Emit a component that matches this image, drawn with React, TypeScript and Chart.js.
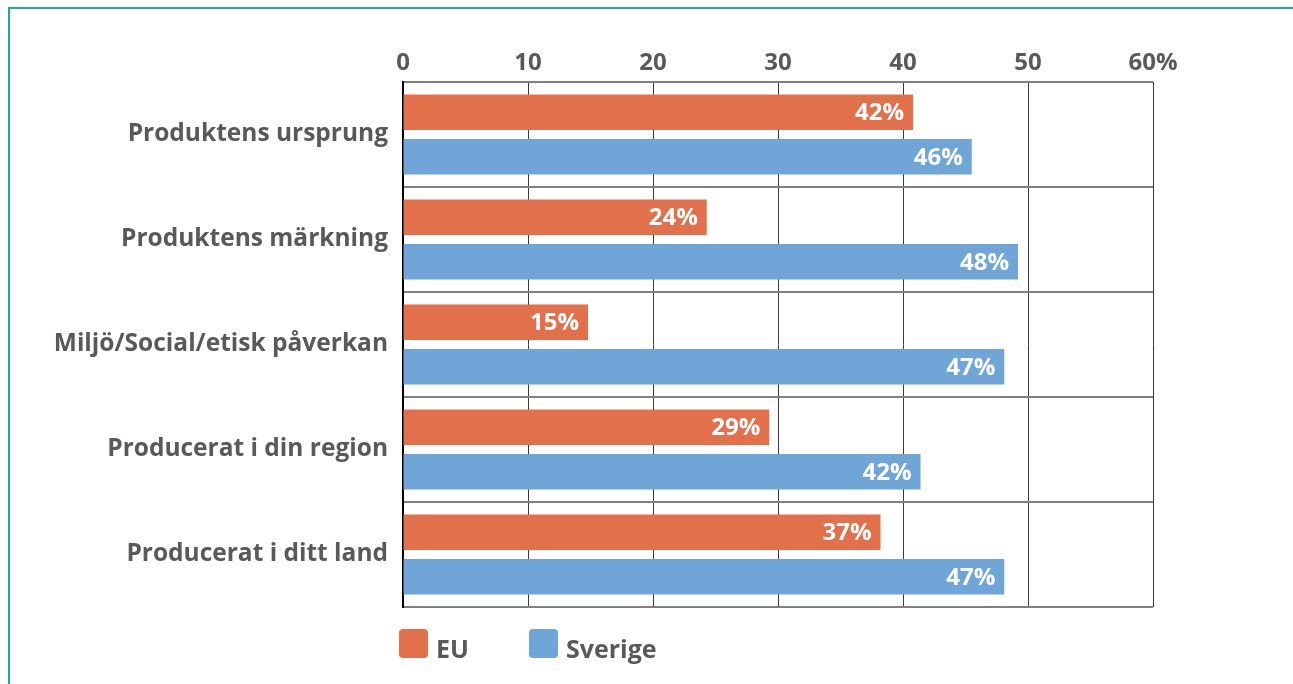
import React, { useEffect, useRef } from "react";
import { Chart, registerables } from "chart.js";

Chart.register(...registerables);

const categories = [
  "Produktens ursprung",
  "Produktens märkning",
  "Miljö/Social/etisk påverkan",
  "Producerat i din region",
  "Producerat i ditt land",
];
const seriesNames = ["EU", "Sverige"];
// bar lengths as drawn in the picture
const euValues = [40.8, 24.3, 14.8, 29.3, 38.2];
const sverigeValues = [45.5, 49.2, 48.1, 41.4, 48.1];
// printed value labels
const euLabels = ["42%", "24%", "15%", "29%", "37%"];
const sverigeLabels = ["46%", "48%", "47%", "42%", "47%"];
const xTicks = [0, 10, 20, 30, 40, 50, 60];

const EU_COLOR = "#E2704A";
const SE_COLOR = "#6FA5D7";
const TEXT = "#595959";
const FONT = "'Open Sans', 'DejaVu Sans', sans-serif";

function roundRect(ctx: CanvasRenderingContext2D, x: number, y: number, w: number, h: number, r: number) {
  ctx.beginPath();
  ctx.moveTo(x + r, y);
  ctx.lineTo(x + w - r, y);
  ctx.quadraticCurveTo(x + w, y, x + w, y + r);
  ctx.lineTo(x + w, y + h - r);
  ctx.quadraticCurveTo(x + w, y + h, x + w - r, y + h);
  ctx.lineTo(x + r, y + h);
  ctx.quadraticCurveTo(x, y + h, x, y + h - r);
  ctx.lineTo(x, y + r);
  ctx.quadraticCurveTo(x, y, x + r, y);
  ctx.closePath();
}

const valueLabelPlugin = {
  id: "valueLabels",
  afterDatasetsDraw(chart: any) {
    const ctx = chart.ctx;
    const all = [euLabels, sverigeLabels];
    ctx.save();
    ctx.fillStyle = "#ffffff";
    ctx.font = `700 24px ${FONT}`;
    ctx.textAlign = "right";
    ctx.textBaseline = "middle";
    chart.data.datasets.forEach((ds: any, di: number) => {
      const meta = chart.getDatasetMeta(di);
      meta.data.forEach((el: any, i: number) => {
        ctx.fillText(all[di][i], el.x - 9, el.y + 1);
      });
    });
    ctx.restore();
  },
};

const legendPlugin = {
  id: "customLegend",
  afterDraw(chart: any) {
    const ctx = chart.ctx;
    const area = chart.chartArea;
    const colors = [EU_COLOR, SE_COLOR];
    const xs = [area.left - 4, area.left + 126];
    const y = area.bottom + 22;
    ctx.save();
    ctx.font = `700 25px ${FONT}`;
    ctx.textBaseline = "alphabetic";
    ctx.textAlign = "left";
    seriesNames.forEach((name, i) => {
      ctx.fillStyle = colors[i];
      roundRect(ctx, xs[i], y, 29, 29, 4);
      ctx.fill();
      ctx.fillStyle = TEXT;
      ctx.fillText(name, xs[i] + 37, y + 29);
    });
    ctx.restore();
  },
};

export default function App() {
  const canvasRef = useRef<HTMLCanvasElement | null>(null);

  useEffect(() => {
    if (!canvasRef.current) return;
    const chart = new Chart(canvasRef.current, {
      type: "bar",
      data: {
        labels: categories,
        datasets: [
          {
            label: seriesNames[0],
            data: euValues,
            backgroundColor: EU_COLOR,
            categoryPercentage: 0.848,
            barPercentage: 0.8,
          },
          {
            label: seriesNames[1],
            data: sverigeValues,
            backgroundColor: SE_COLOR,
            categoryPercentage: 0.848,
            barPercentage: 0.8,
          },
        ],
      },
      options: {
        indexAxis: "y",
        animation: false,
        responsive: true,
        maintainAspectRatio: false,
        layout: { padding: { left: 0, top: 0, right: 140, bottom: 77 } },
        plugins: {
          legend: { display: false },
          tooltip: { enabled: false },
        },
        scales: {
          x: {
            position: "top",
            min: 0,
            max: 60,
            afterBuildTicks: (scale: any) => {
              scale.ticks = xTicks.map((v) => ({ value: v }));
            },
            afterFit: (scale: any) => {
              scale.height = 82;
            },
            ticks: {
              color: TEXT,
              font: { family: FONT, size: 24, weight: "700" },
              padding: 4,
              callback: (v: any) => (v === 60 ? "60%" : String(v)),
            },
            grid: {
              color: "#3a3a3a",
              lineWidth: 1,
              drawTicks: false,
            },
            border: { display: false },
          },
          y: {
            afterFit: (scale: any) => {
              scale.width = 403;
            },
            ticks: {
              color: TEXT,
              font: { family: FONT, size: 24.5, weight: "700" },
              padding: 15,
            },
            grid: {
              offset: true,
              drawTicks: false,
              color: (ctx: any) => (ctx.index === categories.length ? "#111111" : "#808080"),
              lineWidth: 2,
            },
            border: { display: true, color: "#000000", width: 2 },
          },
        },
      },
      plugins: [valueLabelPlugin, legendPlugin],
    } as any);
    return () => chart.destroy();
  }, []);

  return (
    <>
      <div
        style={{
          position: "fixed",
          left: 8,
          top: 7,
          right: -20,
          bottom: -20,
          borderTop: "2px solid #1aab99",
          borderLeft: "2px solid #1aab99",
          pointerEvents: "none",
        }}
      />
      <div style={{ position: "fixed", left: 0, top: 0, width: 1293, height: 684 }}>
        <canvas ref={canvasRef} />
      </div>
    </>
  );
}
